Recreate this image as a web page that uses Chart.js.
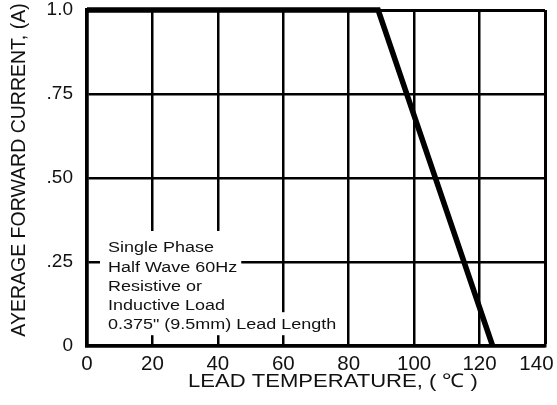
<!DOCTYPE html>
<html><head><meta charset="utf-8">
<script src="https://cdn.jsdelivr.net/npm/chart.js@4.4.1/dist/chart.umd.min.js"></script>
<style>html,body{margin:0;padding:0;background:#fff;overflow:hidden}canvas{display:block}</style>
</head><body>
<canvas id="c" width="557" height="405"></canvas>
<script>
// ---- data ----
const leadTempC = [0, 89, 124];
const avgCurrentA = [1.0, 1.0, 0];
const yTickValues = [0, 0.25, 0.5, 0.75, 1.0];
const yTickLabels = ['0', '.25', '.50', '.75', '1.0'];
const xTitle = 'LEAD TEMPERATURE, ( \u2103 )';
const yTitle = 'AYERAGE FORWARD CURRENT, (A)';
const noteLines = ['Single Phase', 'Half Wave 60Hz', 'Resistive or', 'Inductive Load', '0.375" (9.5mm) Lead Length'];

const FONT = '"Liberation Sans", Arial, sans-serif';
const STRETCH = 1.16;

const textPlugin = {
  id: 'textPlugin',
  beforeDatasetsDraw(chart) {
    const ctx = chart.ctx, a = chart.chartArea;
    ctx.save();
    ctx.font = '15.5px ' + FONT;
    const tx = a.left + 21;
    const y0 = a.bottom - 98;
    const lh = 19.3;
    let maxW = 0;
    for (let i = 0; i < 4; i++) maxW = Math.max(maxW, ctx.measureText(noteLines[i]).width * STRETCH);
    const w5 = ctx.measureText(noteLines[4]).width * STRETCH;
    ctx.fillStyle = '#fff';
    ctx.fillRect(tx - 8, y0 - 17, maxW + 12, (y0 + 3 * lh + 10) - (y0 - 17));
    ctx.fillRect(tx - 8, y0 + 4 * lh - 13, w5 + 12, 23);
    ctx.fillStyle = '#111';
    ctx.textBaseline = 'middle';
    ctx.textAlign = 'left';
    noteLines.forEach((t, i) => {
      ctx.save();
      ctx.translate(tx, y0 + i * lh);
      ctx.scale(STRETCH, 1);
      ctx.fillText(t, 0, 0);
      ctx.restore();
    });
    ctx.restore();
  },
  afterDraw(chart) {
    const ctx = chart.ctx, a = chart.chartArea;
    ctx.save();
    ctx.fillStyle = '#111';
    ctx.textAlign = 'center';
    ctx.textBaseline = 'middle';
    ctx.font = '19px ' + FONT;
    ctx.translate((a.left + a.right) / 2 + 17, a.bottom + 36);
    ctx.scale(STRETCH, 1);
    ctx.fillText(xTitle, 0, 0);
    ctx.restore();
    ctx.save();
    ctx.fillStyle = '#111';
    ctx.textAlign = 'center';
    ctx.textBaseline = 'middle';
    ctx.font = '19.5px ' + FONT;
    ctx.translate(19.5, (a.top + a.bottom) / 2 - 8);
    ctx.rotate(-Math.PI / 2);
    ctx.fillText(yTitle, 0, 0);
    ctx.restore();
  }
};

new Chart(document.getElementById('c'), {
  type: 'line',
  data: {
    datasets: [{
      data: leadTempC.map((x, i) => ({ x, y: avgCurrentA[i] })),
      borderColor: '#000',
      borderWidth: 5.5,
      pointRadius: 0,
      tension: 0,
      fill: false,
      clip: false,
      borderJoinStyle: 'miter',
      borderCapStyle: 'butt'
    }]
  },
  options: {
    responsive: false,
    animation: false,
    events: [],
    layout: { padding: { top: 10, right: 12, left: 0, bottom: 0 } },
    plugins: { legend: { display: false }, tooltip: { enabled: false } },
    scales: {
      x: {
        type: 'linear', min: 0, max: 140,
        ticks: {
          stepSize: 20, color: '#111', font: { family: FONT, size: 20.5 }, padding: 6, maxRotation: 0,
          callback: v => (v === 140 ? '140   ' : String(v))
        },
        grid: { color: '#000', lineWidth: c => (c.tick && c.tick.value === 140 ? 3 : 2.5), drawTicks: false },
        border: { color: '#000', width: 3.5 },
        afterFit(s) { s.height = 59; s.paddingLeft = 0; s.paddingRight = 0; }
      },
      y: {
        type: 'linear', min: 0, max: 1,
        afterBuildTicks(s) { s.ticks = yTickValues.map(v => ({ value: v })); },
        ticks: {
          color: '#111', font: { family: FONT, size: 19 }, padding: 14,
          callback: v => { const i = yTickValues.indexOf(v); return i >= 0 ? yTickLabels[i] : ''; }
        },
        grid: { color: '#000', lineWidth: c => (c.tick && c.tick.value === 1 ? 3 : 2.5), drawTicks: false },
        border: { color: '#000', width: 3.5 },
        afterFit(s) { s.width = 87; s.paddingTop = 0; s.paddingBottom = 0; }
      }
    }
  },
  plugins: [textPlugin]
});
</script>
</body></html>
